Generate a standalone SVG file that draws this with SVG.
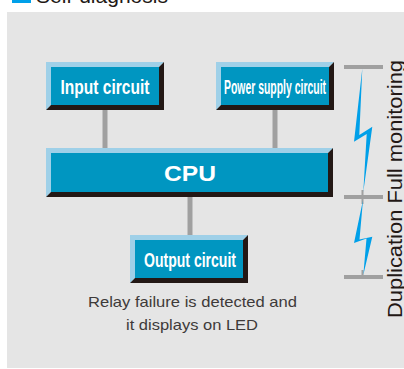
<svg xmlns="http://www.w3.org/2000/svg" width="404" height="369" viewBox="0 0 404 369">
<style>
.light{fill:#9fd0e8}
.dark{fill:#231815}
.face{fill:#0096c1}
.lbl{font-family:"Liberation Sans",Arial,sans-serif;font-weight:bold;fill:#ffffff;text-anchor:middle}
.cap{font-family:"Liberation Sans",Arial,sans-serif;fill:#3e3a39;text-anchor:middle;font-size:15px}
.conn{stroke:#a0a0a0;stroke-width:5;fill:none}
.bar{fill:#a0a0a0}
.bolt{fill:#00a0e9}
</style>
<rect x="0" y="0" width="404" height="369" fill="#ffffff"/>
<g id="title">
<rect x="12" y="-2" width="19" height="5" fill="#00a0e9"/>
<text x="36" y="3" font-family="Liberation Sans,Arial,sans-serif" font-size="21" fill="#231815">Self-diagnosis</text>
</g>
<rect id="panel" x="7" y="12" width="397" height="356" fill="#e5e5e5"/>
<g id="connectors">
<line class="conn" x1="105" y1="110" x2="105" y2="148"/>
<line class="conn" x1="275" y1="110" x2="275" y2="148"/>
<line class="conn" x1="190" y1="197" x2="190" y2="235"/>
</g>
<g id="input-circuit">
<polygon class="light" points="46,62 164,62 159,67 51,67 51,105 46,110"/>
<polygon class="dark" points="164,62 164,110 46,110 51,105 159,105 159,67"/>
<rect class="face" x="51" y="67" width="108" height="38"/>
<text class="lbl" x="105" y="94" font-size="21" textLength="89" lengthAdjust="spacingAndGlyphs">Input circuit</text>
</g>
<g id="power-supply-circuit">
<polygon class="light" points="216,62 334,62 329,67 221,67 221,105 216,110"/>
<polygon class="dark" points="334,62 334,110 216,110 221,105 329,105 329,67"/>
<rect class="face" x="221" y="67" width="108" height="38"/>
<text class="lbl" x="275" y="94" font-size="20" textLength="102" lengthAdjust="spacingAndGlyphs">Power supply circuit</text>
</g>
<g id="cpu">
<polygon class="light" points="46,148 333,148 328,153 51,153 51,192 46,197"/>
<polygon class="dark" points="333,148 333,197 46,197 51,192 328,192 328,153"/>
<rect class="face" x="51" y="153" width="277" height="39"/>
<text class="lbl" x="190" y="181" font-size="22" textLength="52" lengthAdjust="spacingAndGlyphs">CPU</text>
</g>
<g id="output-circuit">
<polygon class="light" points="130,235 248,235 243,240 135,240 135,278 130,283"/>
<polygon class="dark" points="248,235 248,283 130,283 135,278 243,278 243,240"/>
<rect class="face" x="135" y="240" width="108" height="38"/>
<text class="lbl" x="190" y="267" font-size="20" textLength="92" lengthAdjust="spacingAndGlyphs">Output circuit</text>
</g>
<g id="caption">
<text class="cap" x="192.5" y="307" textLength="209" lengthAdjust="spacingAndGlyphs">Relay failure is detected and</text>
<text class="cap" x="192" y="330" textLength="132" lengthAdjust="spacingAndGlyphs">it displays on LED</text>
</g>
<g id="monitoring">
<rect class="bar" x="344" y="65" width="39" height="4"/>
<rect class="bar" x="344" y="195" width="39" height="4"/>
<rect class="bar" x="361.5" y="190" width="2" height="14"/>
<rect class="bar" x="344" y="275" width="39" height="4"/>
<rect class="bar" x="361.5" y="270" width="2" height="8"/>
<polygon class="bolt" points="362.3,68.5 354,141.7 366.7,134 363.3,192 372.3,126.7 359.3,135"/>
<polygon class="bolt" points="363,200 354,243 366.5,238.5 363.3,275 372.3,236.7 359.5,239.5"/>
<text x="0" y="0" transform="translate(402,189) rotate(-90)" font-family="Liberation Sans,Arial,sans-serif" font-size="21" fill="#231815" text-anchor="middle" textLength="258" lengthAdjust="spacingAndGlyphs">Duplication Full monitoring</text>
</g>
</svg>
